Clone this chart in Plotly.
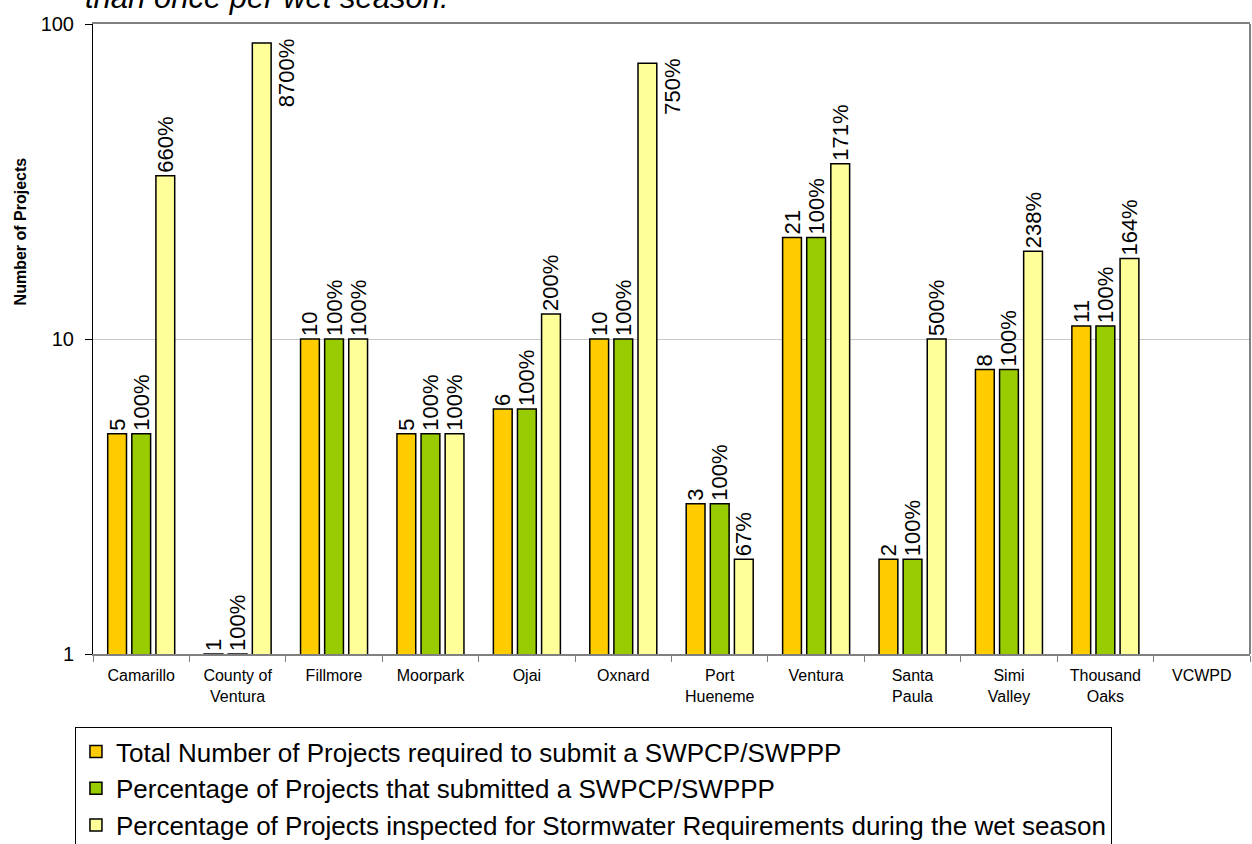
import math
import plotly.graph_objects as go

categories = ["Camarillo", "County of<br>Ventura", "Fillmore", "Moorpark", "Ojai", "Oxnard",
              "Port<br>Hueneme", "Ventura", "Santa<br>Paula", "Simi<br>Valley", "Thousand<br>Oaks", "VCWPD"]

total_required = [5, 1, 10, 5, 6, 10, 3, 21, 2, 8, 11, None]
submitted = [5, 1, 10, 5, 6, 10, 3, 21, 2, 8, 11, None]
inspected = [33, 87, 10, 5, 12, 75, 2, 36, 10, 19, 18, None]

total_labels = ["5", "1", "10", "5", "6", "10", "3", "21", "2", "8", "11", ""]
submitted_labels = ["100%"] * 11 + [""]
inspected_labels = ["660%", "8700%", "100%", "100%", "200%", "750%", "67%", "171%", "500%", "238%", "164%", ""]

series_names = [
    "Total Number of Projects required to submit a SWPCP/SWPPP",
    "Percentage of Projects that submitted a SWPCP/SWPPP",
    "Percentage of Projects inspected for Stormwater Requirements during the wet season",
]
colors = ["#FFCC00", "#99CC00", "#FFFF99"]

FONT = "Liberation Sans, Arial, sans-serif"
LABEL_SIZE = 22
BESIDE_THRESHOLD = 50  # tall bars get their label beside the bar

fig = go.Figure()

insp_text = [("" if (v is not None and v > BESIDE_THRESHOLD) else t) for v, t in zip(inspected, inspected_labels)]

for name, vals, labels, col in zip(series_names,
                                   [total_required, submitted, inspected],
                                   [total_labels, submitted_labels, insp_text],
                                   colors):
    fig.add_trace(go.Bar(
        name=name, x=categories, y=vals, text=labels,
        textposition="outside", textangle=-90, constraintext="none",
        textfont=dict(family=FONT, size=LABEL_SIZE, color="black"),
        marker=dict(color=col, line=dict(color="black", width=1.5)),
        cliponaxis=False,
    ))

annotations = []
for c, v, t in zip(categories, inspected, inspected_labels):
    if v is not None and v > BESIDE_THRESHOLD:
        annotations.append(dict(
            x=c, y=math.log10(v), xref="x", yref="y", text=t, showarrow=False,
            textangle=-90, xanchor="center", yanchor="top", xshift=49, yshift=7,
            font=dict(family=FONT, size=LABEL_SIZE, color="black"),
        ))

# partially visible title
annotations.append(dict(
    x=-0.0086, y=1.0413, xref="paper", yref="paper", xanchor="left", yanchor="middle",
    text="<i>than once per wet season.</i>", showarrow=False,
    font=dict(family=FONT, size=31, color="black"),
))
# y-axis title
annotations.append(dict(
    x=-0.063, y=0.671, xref="paper", yref="paper", xanchor="center", yanchor="middle",
    text="<b>Number of Projects</b>", showarrow=False, textangle=-90,
    font=dict(family=FONT, size=16, color="black"),
))

fig.update_layout(
    width=1252, height=844,
    margin=dict(l=93, r=2, t=24, b=190, autoexpand=False),
    paper_bgcolor="white", plot_bgcolor="white",
    barmode="group", bargap=0.25, bargroupgap=0.22,
    font=dict(family=FONT, color="black"),
    showlegend=True,
    legend=dict(
        x=-0.0156, y=-0.116, xanchor="left", yanchor="top",
        bordercolor="black", borderwidth=1, bgcolor="white",
        font=dict(family=FONT, size=26, color="black"),
        traceorder="normal",
    ),
    annotations=annotations,
    shapes=[dict(type="line", xref="paper", yref="paper", x0=1, x1=1, y0=0, y1=1,
                 line=dict(color="#808080", width=2))],
)

fig.update_xaxes(
    type="category", tickson="boundaries", ticks="outside", ticklen=6,
    tickcolor="#808080", showline=True, linecolor="#808080", linewidth=1.5, mirror=True,
    tickfont=dict(family=FONT, size=16, color="black"), ticklabelstandoff=6,
    showgrid=False, automargin=False,
)
fig.update_yaxes(
    type="log", range=[0, 2], tickvals=[1, 10, 100], ticktext=["1", "10", "100"],
    ticks="outside", ticklen=7, tickcolor="black",
    showline=True, linecolor="black", linewidth=1,
    showgrid=True, gridcolor="#C8C8C8", gridwidth=1,
    tickfont=dict(family=FONT, size=20, color="black"), ticklabelstandoff=7,
    zeroline=False, automargin=False,
)

fig.write_html(
    "out.html",
    config={"displayModeBar": False},
    post_script="document.body.style.margin='0';document.body.style.overflow='hidden';",
)
